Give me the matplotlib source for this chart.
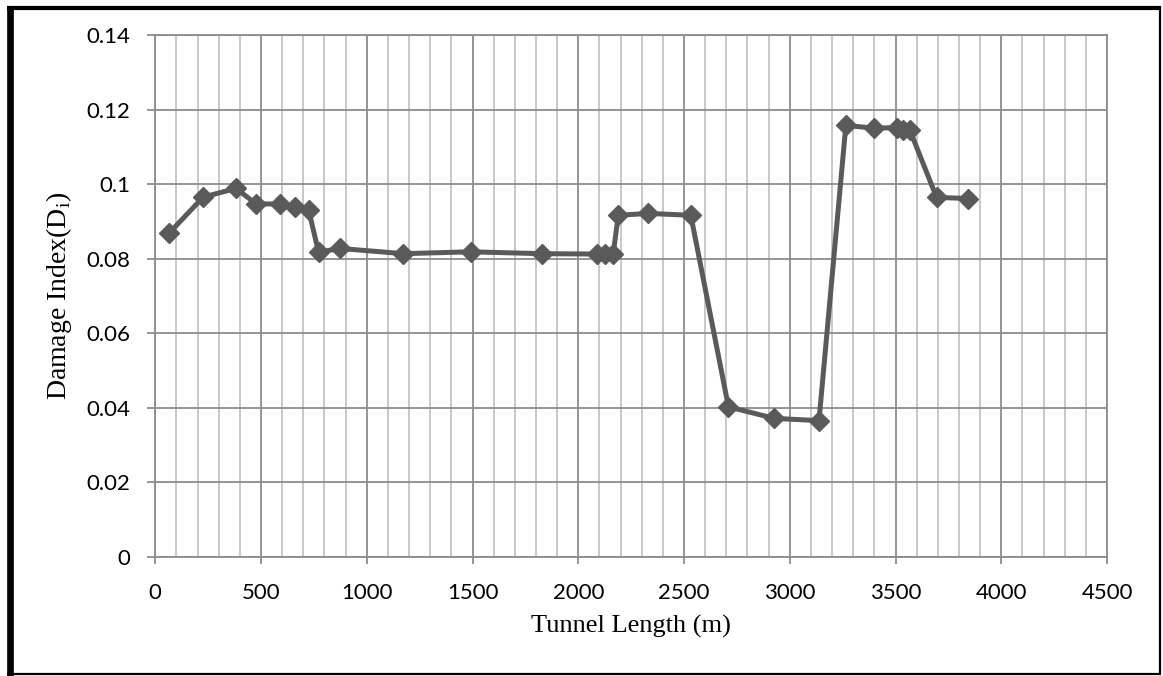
import matplotlib
matplotlib.use("Agg")
import matplotlib.pyplot as plt
from matplotlib.lines import Line2D
from matplotlib.ticker import MultipleLocator

# chainage along the tunnel (m) and the damage index at each station
length_m = [67, 227, 382, 476, 588, 661, 725, 772, 873, 1173, 1493, 1827,
            2090, 2128, 2165, 2189, 2331, 2532, 2710, 2927, 3138,
            3265, 3398, 3505, 3537, 3568, 3694, 3844]
damage = [0.0870, 0.0966, 0.0989, 0.0948, 0.0947, 0.0938, 0.0932, 0.0818,
          0.0828, 0.0814, 0.0819, 0.0814, 0.0813, 0.0813, 0.0813, 0.0917,
          0.0922, 0.0917, 0.0403, 0.0372, 0.0366, 0.1158, 0.1151, 0.1152,
          0.1147, 0.1145, 0.0965, 0.0962]
ytick_vals = [0, 0.02, 0.04, 0.06, 0.08, 0.1, 0.12, 0.14]
ytick_text = ["0", "0.02", "0.04", "0.06", "0.08", "0.1", "0.12", "0.14"]

fig = plt.figure(figsize=(11.63, 6.76), dpi=100)
ax = fig.add_axes([0.1335, 0.176, 0.8184, 0.7718])

line_col = "#5a5a5a"
ax.plot(length_m, damage, color=line_col, lw=3.6, marker="D", ms=10,
        mfc=line_col, mec=line_col, zorder=3, clip_on=False)

ax.set_xlim(0, 4500)
ax.set_ylim(0, 0.14)
ax.xaxis.set_major_locator(MultipleLocator(500))
ax.xaxis.set_minor_locator(MultipleLocator(100))

ax.grid(which="major", axis="both", color="#8c8c8c", lw=1.3)
ax.grid(which="minor", axis="x", color="#c4c4c4", lw=1.3)
ax.set_axisbelow(True)
for s in ax.spines.values():
    s.set_color("#8c8c8c")
    s.set_linewidth(1.3)

ax.set_yticks(ytick_vals)
ax.set_yticklabels(ytick_text)
ax.tick_params(axis="x", which="major", length=5, color="#8c8c8c", width=1.3,
               pad=14, labelsize=16)
ax.tick_params(axis="x", which="minor", length=0)
ax.tick_params(axis="y", length=6, color="#8c8c8c", width=1.3, pad=12,
               labelsize=16)
for lab in ax.get_xticklabels() + ax.get_yticklabels():
    lab.set_family("Lato")

ax.set_xlabel("Tunnel Length (m)", family="Liberation Serif", fontsize=19,
              labelpad=8)
ax.set_ylabel(r"Damage Index(D$_\mathregular{i}$)", family="Liberation Serif",
              fontsize=20, labelpad=9)

# black page frame, heavier on the left and top
fig.add_artist(Line2D([10 / 1163, 10 / 1163], [0, 1 - 6 / 676],
                      transform=fig.transFigure, color="black", lw=4.8,
                      solid_capstyle="butt"))
fig.add_artist(Line2D([7 / 1163, 1161 / 1163], [1 - 8 / 676, 1 - 8 / 676],
                      transform=fig.transFigure, color="black", lw=3.0,
                      solid_capstyle="butt"))
fig.add_artist(Line2D([1160 / 1163, 1160 / 1163], [2 / 676, 1 - 6 / 676],
                      transform=fig.transFigure, color="black", lw=1.6,
                      solid_capstyle="butt"))
fig.add_artist(Line2D([7 / 1163, 1161 / 1163], [2 / 676, 2 / 676],
                      transform=fig.transFigure, color="black", lw=1.6,
                      solid_capstyle="butt"))

fig.savefig("out.png", dpi=100)
